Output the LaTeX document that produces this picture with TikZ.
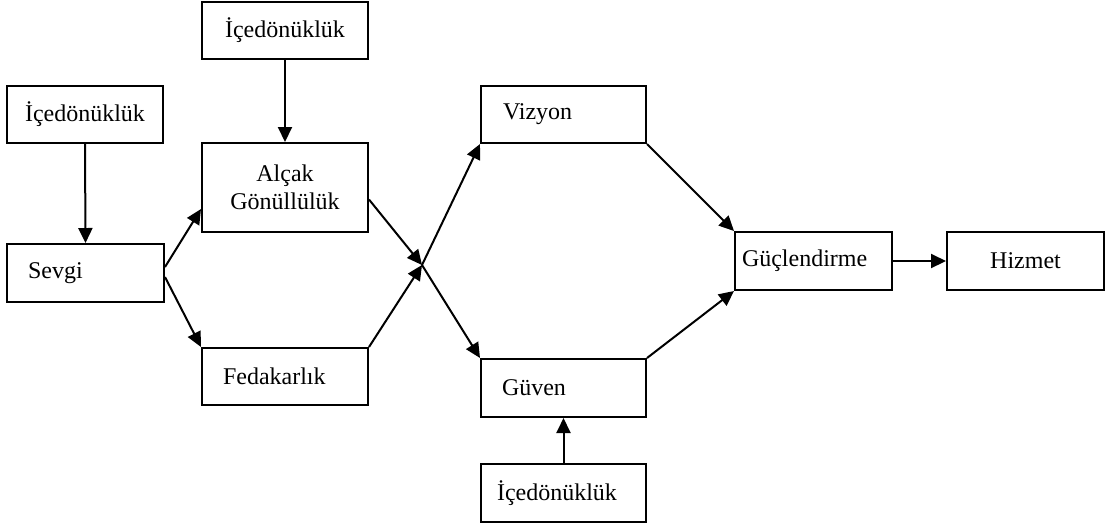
\documentclass[tikz,border=0pt]{standalone}
\usepackage{fontspec}
\setmainfont{Liberation Serif}
\usetikzlibrary{arrows.meta}
\begin{document}
\begin{tikzpicture}[x=0.5pt,y=-0.5pt,
  box/.style={draw, line width=1pt, inner ysep=0pt, inner xsep=0pt,
    font=\fontsize{12}{14}\selectfont},
  cbox/.style={box, align=center},
  lbox/.style={box, align=left},
  arr/.style={line width=1pt, -{Triangle[length=7.5pt,width=7pt]}}
]
\useasboundingbox (0,0) rectangle (1107,527);

% left column
\node[cbox, minimum width=78pt, minimum height=28.5pt] (icL) at (85,114.5) {İçedönüklük};
\node[lbox, text width=57.5pt, inner xsep=10.5pt, minimum height=29pt] (sevgi) at (85.5,273) {Sevgi};

% second column
\node[cbox, minimum width=83pt, minimum height=28.5pt] (icT) at (285,30.5) {İçedönüklük};
\node[cbox, minimum width=83pt, minimum height=44.5pt] (alcak) at (285,187.5) {Alçak\\Gönüllülük};
\node[lbox, text width=62pt, inner xsep=10.5pt, minimum height=28.5pt] (feda) at (285,376.5) {Fedakarlık};

% third column
\node[lbox, text width=60.5pt, inner xsep=11pt, minimum height=28.5pt] (vizyon) at (563.5,114.5) {Vizyon};
\node[lbox, text width=61.5pt, inner xsep=10.5pt, minimum height=29pt] (guven) at (563.5,388) {Güven};
\node[lbox, text width=66.5pt, inner xsep=8pt, minimum height=29pt] (icB) at (563.5,493) {İçedönüklük};

% right side
\node[lbox, text width=71.5pt, inner xsep=3.5pt, minimum height=29pt] (guc) at (813.5,261) {Güçlendirme};
\node[cbox, minimum width=78.5pt, minimum height=29pt] (hizmet) at (1025.5,261) {Hizmet};

% crossing point of the two diagonals
\coordinate (X) at (422,265);

% connectors
\draw[arr] (icT.south) -- (alcak.north);
\draw[arr] (icL.south) -- (sevgi.north);
\draw[arr] ([yshift=3pt]sevgi.east) -- ([yshift=12pt]alcak.south west);
\draw[arr] ([yshift=-2pt]sevgi.east) -- (feda.north west);
\draw[arr] ([yshift=-6pt]alcak.east) -- (X);
\draw[arr] (X) -- (guven.north west);
\draw[arr] (feda.north east) -- (X);
\draw[arr] (X) -- (vizyon.south west);
\draw[arr] (vizyon.south east) -- (guc.north west);
\draw[arr] (guven.north east) -- (guc.south west);
\draw[arr] (icB.north) -- (guven.south);
\draw[arr] (guc.east) -- (hizmet.west);
\end{tikzpicture}
\end{document}
